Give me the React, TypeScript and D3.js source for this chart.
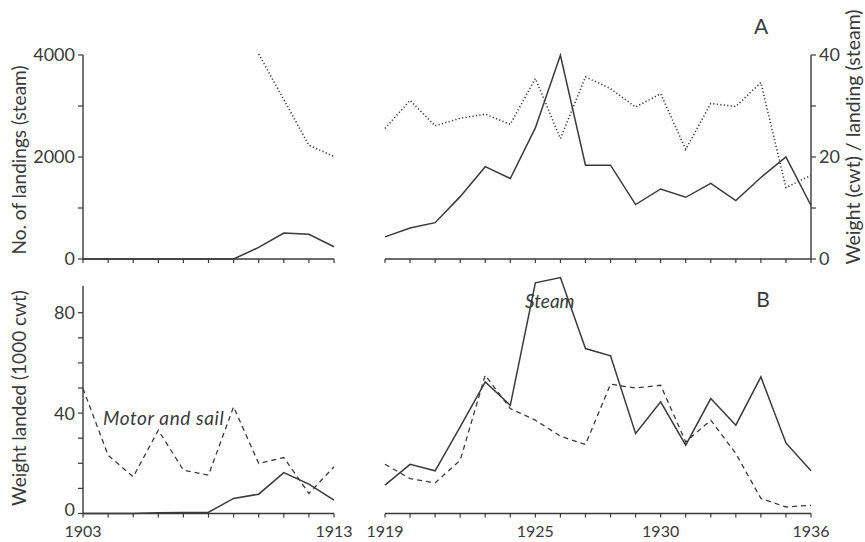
import React from "react";
import * as d3 from "d3";

const years1 = [1903, 1904, 1905, 1906, 1907, 1908, 1909, 1910, 1911, 1912, 1913];
const years2 = [1919, 1920, 1921, 1922, 1923, 1924, 1925, 1926, 1927, 1928, 1929, 1930, 1931, 1932, 1933, 1934, 1935, 1936];

// Panel A
const landingsSteam1 = [0, 0, 0, 0, 0, 0, 0, 227, 510, 485, 240];
const landingsSteam2 = [433, 608, 712, 1223, 1810, 1578, 2570, 3994, 1839, 1839, 1068, 1373, 1210, 1482, 1146, 1598, 2000, 1049];
const perLandingYears1 = [1910, 1912, 1913];
const perLanding1 = [40.2, 22.3, 20.1];
const perLanding2 = [25.6, 31.1, 26.1, 27.6, 28.4, 26.4, 35.4, 23.6, 35.7, 33.4, 29.8, 32.4, 21.5, 30.5, 29.9, 34.6, 14.0, 16.4];

// Panel B
const steam1 = [0, 0, 0, 0.3, 0.4, 0.5, 6.0, 7.7, 16.3, 11.7, 5.3];
const motor1 = [49.8, 23.2, 14.6, 33.2, 17.3, 15.3, 42.5, 19.9, 22.3, 8.0, 18.6];
const steam2 = [11.3, 19.6, 17.0, 34.5, 52.4, 43.1, 91.9, 94.0, 65.7, 62.8, 31.9, 44.5, 27.2, 45.8, 35.2, 54.4, 28.1, 17.0];
const motor2 = [19.6, 13.9, 12.2, 21.2, 55.1, 41.8, 37.2, 30.8, 27.5, 51.5, 50.0, 51.1, 28.5, 37.2, 23.9, 6.0, 2.6, 3.3];

const leftTicksA = [0, 1000, 2000, 3000, 4000];
const leftLabelsA = [0, 2000, 4000];
const rightTicksA = [0, 10, 20, 30, 40];
const rightLabelsA = [0, 20, 40];
const ticksB = [0, 10, 20, 30, 40, 50, 60, 70, 80];
const labelsB = [0, 40, 80];
const yearLabels = [1903, 1913, 1919, 1925, 1930, 1936];

const INK = "#3a3a3a";
const FONT = "Lato, 'Open Sans', sans-serif";

export default function App() {
  const x1 = d3.scaleLinear().domain([1903, 1913]).range([83, 334]);
  const x2 = d3.scaleLinear().domain([1919, 1936]).range([385, 811]);
  const yA = d3.scaleLinear().domain([0, 4000]).range([259, 55]);
  const yAr = d3.scaleLinear().domain([0, 40]).range([259, 55]);
  const yB = d3.scaleLinear().domain([0, 80]).range([513.5, 312.7]);
  const xOf = (yr: number) => (yr <= 1913 ? x1(yr) : x2(yr));

  const line = (xs: number[], vs: number[], y: d3.ScaleLinear<number, number>) =>
    d3.line<number>().x((_, i) => xOf(xs[i])).y((v) => y(v))(vs) || "";

  const xAxis = (yPos: number, key: string) => (
    <g key={key}>
      {[years1, years2].map((ys, k) => (
        <g key={k}>
          <line x1={xOf(ys[0])} x2={xOf(ys[ys.length - 1])} y1={yPos} y2={yPos} stroke={INK} strokeWidth={1.4} />
          {ys.map((yr) => (
            <line key={yr} x1={xOf(yr)} x2={xOf(yr)} y1={yPos} y2={yPos + 4} stroke={INK} strokeWidth={1.2} />
          ))}
        </g>
      ))}
    </g>
  );

  return (
    <svg width={865} height={542} style={{ position: "absolute", left: 0, top: 0, background: "#fff" }} fontFamily={FONT}>
      <rect width={865} height={542} fill="#fff" />
      {/* Panel A */}
      {xAxis(259, "a")}
      <line x1={83} x2={83} y1={yA(4000)} y2={yA(0)} stroke={INK} strokeWidth={1.4} />
      {leftTicksA.map((t) => (
        <line key={t} x1={78} x2={83} y1={yA(t)} y2={yA(t)} stroke={INK} strokeWidth={1.2} />
      ))}
      {leftLabelsA.map((t) => (
        <text key={t} x={75} y={yA(t)} dy="0.36em" textAnchor="end" fontSize={18} fill={INK}>{t}</text>
      ))}
      <line x1={811} x2={811} y1={yAr(40)} y2={yAr(0)} stroke={INK} strokeWidth={1.4} />
      {rightTicksA.map((t) => (
        <line key={t} x1={811} x2={816} y1={yAr(t)} y2={yAr(t)} stroke={INK} strokeWidth={1.2} />
      ))}
      {rightLabelsA.map((t) => (
        <text key={t} x={819} y={yAr(t)} dy="0.36em" textAnchor="start" fontSize={18} fill={INK}>{t}</text>
      ))}
      <text transform="translate(26,160) rotate(-90)" textAnchor="middle" fontSize={19} fill={INK}>No. of landings (steam)</text>
      <text transform="translate(860,137) rotate(-90)" textAnchor="middle" fontSize={19.5} fill={INK}>Weight (cwt) / landing (steam)</text>
      <text x={761} y={34} textAnchor="middle" fontSize={21} fill={INK}>A</text>

      <path d={line(years1, landingsSteam1, yA)} fill="none" stroke={INK} strokeWidth={1.5} />
      <path d={line(years2, landingsSteam2, yA)} fill="none" stroke={INK} strokeWidth={1.5} />
      <path d={line(perLandingYears1, perLanding1, yAr)} fill="none" stroke={INK} strokeWidth={1.6} strokeDasharray="1.2,2.3" />
      <path d={line(years2, perLanding2, yAr)} fill="none" stroke={INK} strokeWidth={1.6} strokeDasharray="1.2,2.3" />

      {/* Panel B */}
      {xAxis(513.5, "b")}
      <line x1={83} x2={83} y1={286} y2={yB(0)} stroke={INK} strokeWidth={1.4} />
      {ticksB.map((t) => (
        <line key={t} x1={78} x2={83} y1={yB(t)} y2={yB(t)} stroke={INK} strokeWidth={1.2} />
      ))}
      {labelsB.map((t) => (
        <text key={t} x={75} y={t === 0 ? yB(t) - 4 : yB(t)} dy="0.36em" textAnchor="end" fontSize={18} fill={INK}>{t}</text>
      ))}
      <text transform="translate(26,398) rotate(-90)" textAnchor="middle" fontSize={19} fill={INK}>Weight landed (1000 cwt)</text>
      {yearLabels.map((yr) => (
        <text key={yr} x={xOf(yr)} y={537} textAnchor="middle" fontSize={16} fill={INK}>{yr}</text>
      ))}
      <text x={763} y={307} textAnchor="middle" fontSize={21} fill={INK}>B</text>
      <text x={103} y={425} fontSize={19} fontStyle="italic" fill={INK} letterSpacing={0.6}>Motor and sail</text>
      <text x={525} y={308} fontSize={19} fontStyle="italic" fill={INK}>Steam</text>

      <path d={line(years1, steam1, yB)} fill="none" stroke={INK} strokeWidth={1.5} />
      <path d={line(years2, steam2, yB)} fill="none" stroke={INK} strokeWidth={1.5} />
      <path d={line(years1, motor1, yB)} fill="none" stroke={INK} strokeWidth={1.3} strokeDasharray="5,4" />
      <path d={line(years2, motor2, yB)} fill="none" stroke={INK} strokeWidth={1.3} strokeDasharray="5,4" />
    </svg>
  );
}
